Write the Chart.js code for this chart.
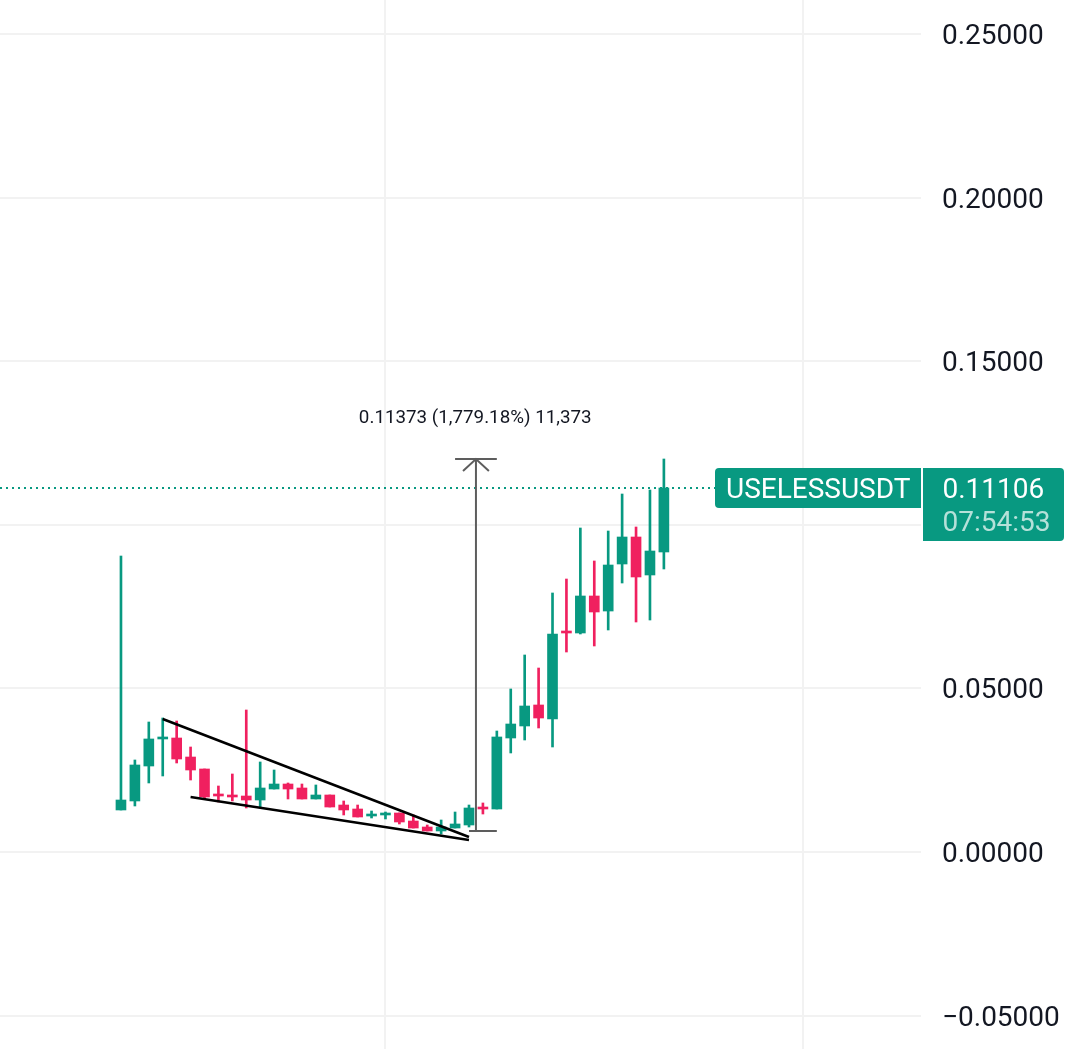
<!DOCTYPE html>
<html>
<head>
<meta charset="utf-8">
<title>USELESSUSDT</title>
<script src="https://cdn.jsdelivr.net/npm/chart.js@4/dist/chart.umd.min.js"></script>
<style>
html, body { margin: 0; padding: 0; background: #fff; overflow: hidden; }
canvas { display: block; }
</style>
</head>
<body>
<canvas id="chart" width="1082" height="1049"></canvas>
<script>
// candle index, one per bar on the chart
const candles = [0,1,2,3,4,5,6,7,8,9,10,11,12,13,14,15,16,17,18,19,20,21,22,23,24,25,26,27,28,29,30,31,32,33,34,35,36,37,38,39];
const opens = [.01284,.01559,.02628,.03454,.03484,.02903,.02537,.01773,.01742,.01711,.01589,.01925,.02078,.01956,.01620,.01742,.01436,.01314,.01100,.01131,.01192,.00947,.00764,.00642,.00733,.00825,.01375,.01314,.03484,.03851,.04493,.04065,.06754,.06693,.07824,.07365,.08802,.09627,.08466,.09169];
const highs = [.09046,.02812,.03973,.04095,.04004,.03209,.02537,.02017,.02384,.04340,.02751,.02506,.02109,.02078,.02048,.01742,.01559,.01436,.01253,.01222,.01192,.01131,.00825,.00978,.01222,.01436,.01498,.03698,.04982,.06021,.05623,.07916,.08343,.09902,.08894,.09810,.10941,.09933,.11063,.12011];
const lows = [.01284,.01406,.02109,.02323,.02720,.02200,.01650,.01528,.01559,.01345,.01345,.01925,.01620,.01620,.01620,.01375,.01131,.01070,.01039,.01009,.00856,.00733,.00642,.00550,.00733,.00764,.01161,.01314,.03026,.03423,.03790,.03209,.06112,.06663,.06296,.06785,.08221,.07029,.07090,.08649];
const closes = [.01589,.02659,.03454,.03515,.02842,.02506,.01681,.01711,.01681,.01589,.01956,.02078,.01925,.01620,.01742,.01375,.01284,.01070,.01161,.01192,.00917,.00733,.00642,.00764,.00856,.01345,.01314,.03515,.03912,.04462,.04095,.06663,.06693,.07824,.07335,.08771,.09627,.08405,.09199,.11125];

const yTicks = [0.25, 0.2, 0.15, 0.1, 0.05, 0, -0.05];
const yTickLabels = ['0.25000', '0.20000', '0.15000', '', '0.05000', '0.00000', '\u22120.05000'];
const xGridAt = [19, 49];

const upperTrend = [[3, .04065], [25, .00458]];
const lowerTrend = [[5, .01681], [25, .00367]];
const measureStem = [[25.5, .00642], [25.5, .12011]];
const measureTop = [[24, .12011], [27, .12011]];
const measureBottom = [[25, .00642], [27, .00642]];
const measureArrow = [[24.57, .11644], [25.5, .12011], [26.43, .11644]];
const measureText = '0.11373 (1,779.18%) 11,373';
const measureTextAt = [25.45, .13325];

const symbol = 'USELESSUSDT';
const lastPrice = 0.11125;
const lastPriceLabel = '0.11106';
const countdown = '07:54:53';

const UP = '#089981';
const DOWN = '#F0205F';
const candleColors = candles.map((c, i) => closes[i] >= opens[i] ? UP : DOWN);

function pts(list) {
    return list.map(p => ({ x: p[0], y: p[1] }));
}
function lineSet(list, color, width) {
    return { type: 'line', data: pts(list), borderColor: color, borderWidth: width, pointRadius: 0, fill: false, tension: 0, order: 0 };
}

// text and the two boxes at the right, these are not chart marks
const overlay = {
    id: 'overlay',
    afterDraw(chart) {
        const ctx = chart.ctx, x = chart.scales.x, y = chart.scales.y;
        ctx.save();
        ctx.textBaseline = 'middle';

        ctx.font = '18.8px Roboto';
        ctx.fillStyle = '#131722';
        ctx.textAlign = 'center';
        ctx.fillText(measureText, x.getPixelForValue(measureTextAt[0]), y.getPixelForValue(measureTextAt[1]) + 2);

        const py = y.getPixelForValue(lastPrice);
        ctx.fillStyle = UP;
        ctx.beginPath();
        ctx.roundRect(715, py - 20, 206, 40, [4, 0, 0, 4]);
        ctx.fill();
        ctx.beginPath();
        ctx.roundRect(923, py - 20, 141, 73, [0, 4, 4, 0]);
        ctx.fill();

        ctx.textAlign = 'left';
        ctx.font = '28px Roboto';
        ctx.fillStyle = '#fff';
        ctx.fillText(symbol, 726, py + 3.5);
        ctx.fillText(lastPriceLabel, 942.5, py + 3.5);
        ctx.fillStyle = 'rgba(255,255,255,0.7)';
        ctx.fillText(countdown, 942.5, py + 36.5);
        ctx.restore();
    }
};

new Chart(document.getElementById('chart'), {
    type: 'bar',
    data: {
        datasets: [
            lineSet(upperTrend, '#000', 2.5),
            lineSet(lowerTrend, '#000', 2.5),
            lineSet(measureStem, '#5d5d5d', 2),
            lineSet(measureTop, '#5d5d5d', 2),
            lineSet(measureBottom, '#5d5d5d', 2),
            lineSet(measureArrow, '#5d5d5d', 2),
            {
                data: candles.map((c, i) => ({ x: c, y: [lows[i], highs[i]] })),
                backgroundColor: candleColors,
                barThickness: 2,
                grouped: false,
                order: 2
            },
            {
                data: candles.map((c, i) => ({ x: c, y: [opens[i], closes[i]] })),
                backgroundColor: candleColors,
                barThickness: 10,
                grouped: false,
                order: 1
            },
            {
                type: 'line',
                data: [{ x: -8.69, y: lastPrice }, { x: 44, y: lastPrice }],
                borderColor: UP,
                borderWidth: 2,
                borderDash: [2, 4],
                pointRadius: 0,
                order: 3
            }
        ]
    },
    options: {
        responsive: false,
        animation: false,
        events: [],
        layout: { padding: 0 },
        plugins: { legend: { display: false }, tooltip: { enabled: false } },
        scales: {
            x: {
                type: 'linear',
                min: -8.69,
                max: 57.47,
                offset: false,
                border: { display: false },
                grid: { color: '#f2f2f2', lineWidth: 2, drawTicks: false, offset: false },
                ticks: { display: false },
                afterBuildTicks(axis) { axis.ticks = xGridAt.map(v => ({ value: v })); },
                afterFit(axis) { axis.height = 0; axis.paddingLeft = 0; axis.paddingRight = 0; }
            },
            y: {
                position: 'right',
                min: -0.06021,
                max: 0.26039,
                border: { display: false },
                grid: { color: '#f2f2f2', lineWidth: 2, drawTicks: false },
                ticks: {
                    padding: 21,
                    labelOffset: 3,
                    color: '#131722',
                    font: { family: 'Roboto', size: 28 },
                    crossAlign: 'near',
                    autoSkip: false,
                    callback(v, i) { return yTickLabels[i]; }
                },
                afterBuildTicks(axis) { axis.ticks = yTicks.map(v => ({ value: v })); },
                afterFit(axis) { axis.width = 161; axis.paddingTop = 0; axis.paddingBottom = 0; }
            }
        }
    },
    plugins: [overlay]
});
</script>
</body>
</html>
